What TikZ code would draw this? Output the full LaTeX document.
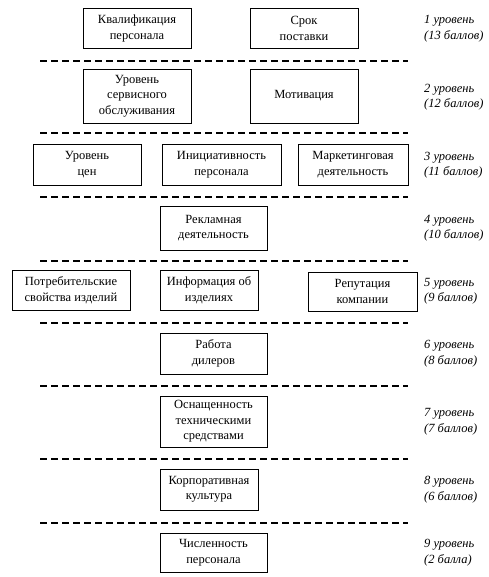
\documentclass[tikz,border=0pt]{standalone}
\usepackage{fontspec}
\setmainfont{Liberation Serif}

\begin{document}
\begin{tikzpicture}[x=1pt,y=-1pt,
    levelline/.style={line width=2pt,dash pattern=on 7pt off 4pt}]

      \useasboundingbox (0,0) rectangle (488,577);

      \begin{scope}[every node/.style={draw,line width=0.8pt,align=center,inner sep=0pt,
          minimum width=108,minimum height=40,font=\fontsize{12.5}{15.5}\selectfont}]
        \node (kval) at (137,28.5) {Квалификация\\персонала};
        \node (srok) at (304,28.5) {Срок\\поставки};
        \node[minimum height=54] (servis) at (137,96) {Уровень\\сервисного\\обслуживания};
        \node[minimum height=54] (motiv) at (304,96) {Мотивация};
        \node[minimum height=41] (ceny) at (87,164.5) {Уровень\\цен};
        \node[minimum width=119,minimum height=41] (iniciat) at (221.5,164.5) {Инициативность\\персонала};
        \node[minimum width=110,minimum height=41] (market) at (353,164.5) {Маркетинговая\\деятельность};
        \node[minimum width=107,minimum height=44] (reklama) at (213.5,228) {Рекламная\\деятельность};
        \node[minimum width=118] (potreb) at (71,290) {Потребительские\\свойства изделий};
        \node[minimum width=98] (inform) at (209,290) {Информация об\\изделиях};
        \node[minimum width=109,minimum height=39] (reput) at (362.5,291.5) {Репутация\\компании};
        \node[minimum width=107,minimum height=41] (diler) at (213.5,353.5) {Работа\\дилеров};
        \node[minimum width=107,minimum height=51] (osnash) at (213.5,421.5) {Оснащенность\\техническими\\средствами};
        \node[minimum width=98,minimum height=41] (korp) at (209,489.5) {Корпоративная\\культура};
        \node[minimum width=107,minimum height=39] (chisl) at (213.5,552.5) {Численность\\персонала};
      \end{scope}

      \begin{scope}[every node/.style={anchor=west,align=left,inner sep=0pt,
          font=\fontsize{12.5}{15.5}\selectfont\itshape}]
        \node (u1) at (424,28.5) {1 уровень\\(13 баллов)};
        \node (u2) at (424,97) {2 уровень\\(12 баллов)};
        \node (u3) at (424,165) {3 уровень\\(11 баллов)};
        \node (u4) at (424,228) {4 уровень\\(10 баллов)};
        \node (u5) at (424,291) {5 уровень\\(9 баллов)};
        \node (u6) at (424,353.5) {6 уровень\\(8 баллов)};
        \node (u7) at (424,421.5) {7 уровень\\(7 баллов)};
        \node (u8) at (424,489.5) {8 уровень\\(6 баллов)};
        \node (u9) at (424,552.5) {9 уровень\\(2 балла)};
      \end{scope}

      \draw[levelline] (40,61) -- (408,61);
      \draw[levelline] (40,133) -- (408,133);
      \draw[levelline] (40,197) -- (408,197);
      \draw[levelline] (40,261) -- (408,261);
      \draw[levelline] (40,323) -- (408,323);
      \draw[levelline] (40,386) -- (408,386);
      \draw[levelline] (40,459) -- (408,459);
      \draw[levelline] (40,523) -- (408,523);

    \end{tikzpicture}
\end{document}
